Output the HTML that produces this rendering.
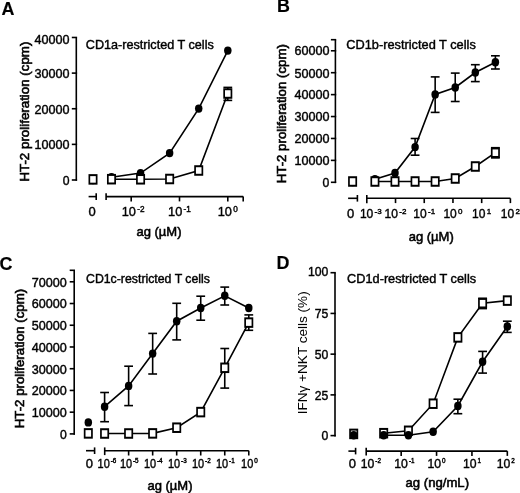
<!DOCTYPE html>
<html><head><meta charset="utf-8"><style>
html,body{margin:0;padding:0;background:#fff;}
svg{display:block;will-change:transform;}
text{font-family:"Liberation Sans", sans-serif;fill:#000;stroke:#000;stroke-width:0.4px;}
</style></head><body>
<svg width="520" height="493" viewBox="0 0 520 493" stroke="#000" stroke-linecap="butt">
<text x="1.50" y="14.60" font-size="17.9" text-anchor="start" font-weight="bold" style="stroke-width:0.15px">A</text>
<line x1="76.30" y1="37.50" x2="76.30" y2="180.80" stroke-width="1.6"/>
<line x1="71.80" y1="37.48" x2="77.10" y2="37.48" stroke-width="1.6"/>
<text x="69.60" y="43.88" font-size="12.2" text-anchor="end" font-weight="normal" textLength="35" lengthAdjust="spacingAndGlyphs" >40000</text>
<line x1="71.80" y1="73.11" x2="77.10" y2="73.11" stroke-width="1.6"/>
<text x="69.60" y="77.91" font-size="12.2" text-anchor="end" font-weight="normal" textLength="35" lengthAdjust="spacingAndGlyphs" >30000</text>
<line x1="71.80" y1="108.74" x2="77.10" y2="108.74" stroke-width="1.6"/>
<text x="69.60" y="113.54" font-size="12.2" text-anchor="end" font-weight="normal" textLength="35" lengthAdjust="spacingAndGlyphs" >20000</text>
<line x1="71.80" y1="144.37" x2="77.10" y2="144.37" stroke-width="1.6"/>
<text x="69.60" y="149.17" font-size="12.2" text-anchor="end" font-weight="normal" textLength="35" lengthAdjust="spacingAndGlyphs" >10000</text>
<line x1="71.80" y1="180.00" x2="77.10" y2="180.00" stroke-width="1.6"/>
<text x="69.60" y="184.80" font-size="12.2" text-anchor="end" font-weight="normal" >0</text>
<line x1="88.60" y1="196.60" x2="96.20" y2="196.60" stroke-width="1.6"/>
<line x1="96.20" y1="193.30" x2="96.20" y2="199.90" stroke-width="1.6"/>
<line x1="106.10" y1="196.60" x2="243.20" y2="196.60" stroke-width="1.6"/>
<line x1="106.10" y1="193.30" x2="106.10" y2="199.90" stroke-width="1.6"/>
<line x1="131.20" y1="196.60" x2="131.20" y2="201.40" stroke-width="1.6"/>
<line x1="179.50" y1="196.60" x2="179.50" y2="201.40" stroke-width="1.6"/>
<line x1="227.80" y1="196.60" x2="227.80" y2="201.40" stroke-width="1.6"/>
<line x1="243.20" y1="196.60" x2="243.20" y2="201.40" stroke-width="1.6"/>
<text x="92.10" y="216.20" font-size="13" text-anchor="middle" font-weight="normal" >0</text>
<text x="121.71" y="216.10" font-size="13" textLength="14.2" lengthAdjust="spacingAndGlyphs">10</text>
<text x="137.21" y="211.50" font-size="8.2">-2</text>
<text x="168.11" y="216.10" font-size="13" textLength="14.2" lengthAdjust="spacingAndGlyphs">10</text>
<text x="183.61" y="211.50" font-size="8.2">-1</text>
<text x="217.77" y="216.10" font-size="13" textLength="14.2" lengthAdjust="spacingAndGlyphs">10</text>
<text x="233.27" y="211.50" font-size="8.2">0</text>
<text x="159.00" y="236.30" font-size="13" text-anchor="middle" font-weight="normal" style="stroke-width:0.55px">ag (µM)</text>
<text transform="translate(29.00,181.60) rotate(-90)" font-size="13" text-anchor="start" textLength="140" lengthAdjust="spacingAndGlyphs" style="stroke-width:0.6px">HT-2 proliferation (cpm)</text>
<text x="85.80" y="48.80" font-size="11.9" text-anchor="start" font-weight="normal" textLength="128" lengthAdjust="spacingAndGlyphs" >CD1a-restricted T cells</text>
<polyline points="227.80,50.60 198.72,108.60 169.64,153.10 140.56,173.10 111.48,177.30" fill="none" stroke-width="1.6"/>
<polyline points="227.80,93.50 198.72,170.50 169.64,179.00 140.56,179.30 111.48,179.20" fill="none" stroke-width="1.6"/>
<ellipse cx="93.00" cy="180.00" rx="3.75" ry="4.2" fill="#000" stroke="none"/>
<ellipse cx="227.80" cy="50.60" rx="3.75" ry="4.2" fill="#000" stroke="none"/>
<ellipse cx="198.72" cy="108.60" rx="3.75" ry="4.2" fill="#000" stroke="none"/>
<ellipse cx="169.64" cy="153.10" rx="3.75" ry="4.2" fill="#000" stroke="none"/>
<ellipse cx="140.56" cy="173.10" rx="3.75" ry="4.2" fill="#000" stroke="none"/>
<ellipse cx="111.48" cy="177.30" rx="3.75" ry="4.2" fill="#000" stroke="none"/>
<line x1="227.80" y1="87.40" x2="227.80" y2="100.40" stroke-width="1.6"/>
<line x1="223.40" y1="87.40" x2="232.20" y2="87.40" stroke-width="1.6"/>
<line x1="223.40" y1="100.40" x2="232.20" y2="100.40" stroke-width="1.6"/>
<rect x="-3.65" y="-3.65" width="7.3" height="7.3" fill="#fff" stroke-width="1.7" transform="translate(93.00,179.40) scale(1,1.17)"/>
<rect x="-3.65" y="-3.65" width="7.3" height="7.3" fill="#fff" stroke-width="1.7" transform="translate(227.80,93.50) scale(1,1.17)"/>
<rect x="-3.65" y="-3.65" width="7.3" height="7.3" fill="#fff" stroke-width="1.7" transform="translate(198.72,170.50) scale(1,1.17)"/>
<rect x="-3.65" y="-3.65" width="7.3" height="7.3" fill="#fff" stroke-width="1.7" transform="translate(169.64,179.00) scale(1,1.17)"/>
<rect x="-3.65" y="-3.65" width="7.3" height="7.3" fill="#fff" stroke-width="1.7" transform="translate(140.56,179.30) scale(1,1.17)"/>
<rect x="-3.65" y="-3.65" width="7.3" height="7.3" fill="#fff" stroke-width="1.7" transform="translate(111.48,179.20) scale(1,1.17)"/>
<text x="277.00" y="12.30" font-size="17.9" text-anchor="start" font-weight="bold" style="stroke-width:0.15px">B</text>
<line x1="335.40" y1="39.70" x2="335.40" y2="183.10" stroke-width="1.6"/>
<line x1="330.90" y1="39.70" x2="336.20" y2="39.70" stroke-width="1.6"/>
<line x1="330.90" y1="50.78" x2="336.20" y2="50.78" stroke-width="1.6"/>
<text x="329.40" y="54.78" font-size="12.2" text-anchor="end" font-weight="normal" textLength="35" lengthAdjust="spacingAndGlyphs" >60000</text>
<line x1="330.90" y1="72.70" x2="336.20" y2="72.70" stroke-width="1.6"/>
<text x="329.40" y="77.50" font-size="12.2" text-anchor="end" font-weight="normal" textLength="35" lengthAdjust="spacingAndGlyphs" >50000</text>
<line x1="330.90" y1="94.62" x2="336.20" y2="94.62" stroke-width="1.6"/>
<text x="329.40" y="99.42" font-size="12.2" text-anchor="end" font-weight="normal" textLength="35" lengthAdjust="spacingAndGlyphs" >40000</text>
<line x1="330.90" y1="116.54" x2="336.20" y2="116.54" stroke-width="1.6"/>
<text x="329.40" y="121.34" font-size="12.2" text-anchor="end" font-weight="normal" textLength="35" lengthAdjust="spacingAndGlyphs" >30000</text>
<line x1="330.90" y1="138.46" x2="336.20" y2="138.46" stroke-width="1.6"/>
<text x="329.40" y="143.26" font-size="12.2" text-anchor="end" font-weight="normal" textLength="35" lengthAdjust="spacingAndGlyphs" >20000</text>
<line x1="330.90" y1="160.38" x2="336.20" y2="160.38" stroke-width="1.6"/>
<text x="329.40" y="165.18" font-size="12.2" text-anchor="end" font-weight="normal" textLength="35" lengthAdjust="spacingAndGlyphs" >10000</text>
<line x1="330.90" y1="182.30" x2="336.20" y2="182.30" stroke-width="1.6"/>
<text x="329.40" y="187.10" font-size="12.2" text-anchor="end" font-weight="normal" >0</text>
<line x1="348.10" y1="198.30" x2="357.40" y2="198.30" stroke-width="1.6"/>
<line x1="357.40" y1="195.00" x2="357.40" y2="201.60" stroke-width="1.6"/>
<line x1="366.80" y1="198.30" x2="510.40" y2="198.30" stroke-width="1.6"/>
<line x1="366.80" y1="195.00" x2="366.80" y2="203.30" stroke-width="1.6"/>
<line x1="395.52" y1="198.30" x2="395.52" y2="203.10" stroke-width="1.6"/>
<line x1="424.24" y1="198.30" x2="424.24" y2="203.10" stroke-width="1.6"/>
<line x1="452.96" y1="198.30" x2="452.96" y2="203.10" stroke-width="1.6"/>
<line x1="481.68" y1="198.30" x2="481.68" y2="203.10" stroke-width="1.6"/>
<line x1="510.40" y1="198.30" x2="510.40" y2="203.10" stroke-width="1.6"/>
<text x="350.70" y="218.20" font-size="13" text-anchor="middle" font-weight="normal" >0</text>
<text x="359.89" y="218.20" font-size="13" textLength="13.4" lengthAdjust="spacingAndGlyphs">10</text>
<text x="374.59" y="213.50" font-size="8">-3</text>
<text x="384.61" y="218.20" font-size="13" textLength="13.4" lengthAdjust="spacingAndGlyphs">10</text>
<text x="399.31" y="213.50" font-size="8">-2</text>
<text x="413.33" y="218.20" font-size="13" textLength="13.4" lengthAdjust="spacingAndGlyphs">10</text>
<text x="428.03" y="213.50" font-size="8">-1</text>
<text x="443.39" y="218.20" font-size="13" textLength="13.4" lengthAdjust="spacingAndGlyphs">10</text>
<text x="458.09" y="213.50" font-size="8">0</text>
<text x="472.11" y="218.20" font-size="13" textLength="13.4" lengthAdjust="spacingAndGlyphs">10</text>
<text x="486.81" y="213.50" font-size="8">1</text>
<text x="500.83" y="218.20" font-size="13" textLength="13.4" lengthAdjust="spacingAndGlyphs">10</text>
<text x="515.53" y="213.50" font-size="8">2</text>
<text x="431.20" y="240.70" font-size="13" text-anchor="middle" font-weight="normal" style="stroke-width:0.55px">ag (µM)</text>
<text transform="translate(286.40,183.30) rotate(-90)" font-size="13" text-anchor="start" textLength="139.2" lengthAdjust="spacingAndGlyphs" style="stroke-width:0.6px">HT-2 proliferation (cpm)</text>
<text x="346.30" y="49.20" font-size="11.9" text-anchor="start" font-weight="normal" textLength="129.5" lengthAdjust="spacingAndGlyphs" >CD1b-restricted T cells</text>
<polyline points="495.38,62.30 475.31,72.50 455.23,87.50 435.16,94.40 415.09,147.10 395.01,173.00 374.94,179.20" fill="none" stroke-width="1.6"/>
<polyline points="495.38,152.70 475.31,166.50 455.23,178.50 435.16,181.50 415.09,181.50 395.01,181.50 374.94,181.50" fill="none" stroke-width="1.6"/>
<ellipse cx="352.60" cy="182.00" rx="3.75" ry="4.2" fill="#000" stroke="none"/>
<line x1="495.38" y1="55.80" x2="495.38" y2="69.00" stroke-width="1.6"/>
<line x1="490.98" y1="55.80" x2="499.78" y2="55.80" stroke-width="1.6"/>
<line x1="490.98" y1="69.00" x2="499.78" y2="69.00" stroke-width="1.6"/>
<ellipse cx="495.38" cy="62.30" rx="3.75" ry="4.2" fill="#000" stroke="none"/>
<line x1="475.31" y1="64.70" x2="475.31" y2="81.60" stroke-width="1.6"/>
<line x1="470.91" y1="64.70" x2="479.71" y2="64.70" stroke-width="1.6"/>
<line x1="470.91" y1="81.60" x2="479.71" y2="81.60" stroke-width="1.6"/>
<ellipse cx="475.31" cy="72.50" rx="3.75" ry="4.2" fill="#000" stroke="none"/>
<line x1="455.23" y1="73.10" x2="455.23" y2="101.50" stroke-width="1.6"/>
<line x1="450.83" y1="73.10" x2="459.63" y2="73.10" stroke-width="1.6"/>
<line x1="450.83" y1="101.50" x2="459.63" y2="101.50" stroke-width="1.6"/>
<ellipse cx="455.23" cy="87.50" rx="3.75" ry="4.2" fill="#000" stroke="none"/>
<line x1="435.16" y1="76.90" x2="435.16" y2="112.40" stroke-width="1.6"/>
<line x1="430.76" y1="76.90" x2="439.56" y2="76.90" stroke-width="1.6"/>
<line x1="430.76" y1="112.40" x2="439.56" y2="112.40" stroke-width="1.6"/>
<ellipse cx="435.16" cy="94.40" rx="3.75" ry="4.2" fill="#000" stroke="none"/>
<line x1="415.09" y1="138.50" x2="415.09" y2="155.20" stroke-width="1.6"/>
<line x1="410.69" y1="138.50" x2="419.49" y2="138.50" stroke-width="1.6"/>
<line x1="410.69" y1="155.20" x2="419.49" y2="155.20" stroke-width="1.6"/>
<ellipse cx="415.09" cy="147.10" rx="3.75" ry="4.2" fill="#000" stroke="none"/>
<ellipse cx="395.01" cy="173.00" rx="3.75" ry="4.2" fill="#000" stroke="none"/>
<ellipse cx="374.94" cy="179.20" rx="3.75" ry="4.2" fill="#000" stroke="none"/>
<line x1="495.38" y1="147.70" x2="495.38" y2="157.90" stroke-width="1.6"/>
<line x1="490.98" y1="147.70" x2="499.78" y2="147.70" stroke-width="1.6"/>
<line x1="490.98" y1="157.90" x2="499.78" y2="157.90" stroke-width="1.6"/>
<rect x="-3.65" y="-3.65" width="7.3" height="7.3" fill="#fff" stroke-width="1.7" transform="translate(352.60,181.50) scale(1,1.17)"/>
<rect x="-3.65" y="-3.65" width="7.3" height="7.3" fill="#fff" stroke-width="1.7" transform="translate(495.38,152.70) scale(1,1.17)"/>
<rect x="-3.65" y="-3.65" width="7.3" height="7.3" fill="#fff" stroke-width="1.7" transform="translate(475.31,166.50) scale(1,1.17)"/>
<rect x="-3.65" y="-3.65" width="7.3" height="7.3" fill="#fff" stroke-width="1.7" transform="translate(455.23,178.50) scale(1,1.17)"/>
<rect x="-3.65" y="-3.65" width="7.3" height="7.3" fill="#fff" stroke-width="1.7" transform="translate(435.16,181.50) scale(1,1.17)"/>
<rect x="-3.65" y="-3.65" width="7.3" height="7.3" fill="#fff" stroke-width="1.7" transform="translate(415.09,181.50) scale(1,1.17)"/>
<rect x="-3.65" y="-3.65" width="7.3" height="7.3" fill="#fff" stroke-width="1.7" transform="translate(395.01,181.50) scale(1,1.17)"/>
<rect x="-3.65" y="-3.65" width="7.3" height="7.3" fill="#fff" stroke-width="1.7" transform="translate(374.94,181.50) scale(1,1.17)"/>
<text x="-0.60" y="270.20" font-size="17.9" text-anchor="start" font-weight="bold" style="stroke-width:0.15px">C</text>
<line x1="74.20" y1="270.30" x2="74.20" y2="434.70" stroke-width="1.6"/>
<line x1="69.70" y1="270.30" x2="75.00" y2="270.30" stroke-width="1.6"/>
<line x1="69.70" y1="281.79" x2="75.00" y2="281.79" stroke-width="1.6"/>
<text x="66.80" y="286.59" font-size="12.2" text-anchor="end" font-weight="normal" textLength="35" lengthAdjust="spacingAndGlyphs" >70000</text>
<line x1="69.70" y1="303.52" x2="75.00" y2="303.52" stroke-width="1.6"/>
<text x="66.80" y="308.32" font-size="12.2" text-anchor="end" font-weight="normal" textLength="35" lengthAdjust="spacingAndGlyphs" >60000</text>
<line x1="69.70" y1="325.25" x2="75.00" y2="325.25" stroke-width="1.6"/>
<text x="66.80" y="330.05" font-size="12.2" text-anchor="end" font-weight="normal" textLength="35" lengthAdjust="spacingAndGlyphs" >50000</text>
<line x1="69.70" y1="346.98" x2="75.00" y2="346.98" stroke-width="1.6"/>
<text x="66.80" y="351.78" font-size="12.2" text-anchor="end" font-weight="normal" textLength="35" lengthAdjust="spacingAndGlyphs" >40000</text>
<line x1="69.70" y1="368.71" x2="75.00" y2="368.71" stroke-width="1.6"/>
<text x="66.80" y="373.51" font-size="12.2" text-anchor="end" font-weight="normal" textLength="35" lengthAdjust="spacingAndGlyphs" >30000</text>
<line x1="69.70" y1="390.44" x2="75.00" y2="390.44" stroke-width="1.6"/>
<text x="66.80" y="395.24" font-size="12.2" text-anchor="end" font-weight="normal" textLength="35" lengthAdjust="spacingAndGlyphs" >20000</text>
<line x1="69.70" y1="412.17" x2="75.00" y2="412.17" stroke-width="1.6"/>
<text x="66.80" y="416.97" font-size="12.2" text-anchor="end" font-weight="normal" textLength="35" lengthAdjust="spacingAndGlyphs" >10000</text>
<line x1="69.70" y1="433.90" x2="75.00" y2="433.90" stroke-width="1.6"/>
<text x="66.80" y="438.70" font-size="12.2" text-anchor="end" font-weight="normal" >0</text>
<line x1="86.00" y1="450.70" x2="94.60" y2="450.70" stroke-width="1.6"/>
<line x1="94.60" y1="447.40" x2="94.60" y2="454.00" stroke-width="1.6"/>
<line x1="104.70" y1="450.70" x2="248.80" y2="450.70" stroke-width="1.6"/>
<line x1="104.70" y1="447.40" x2="104.70" y2="455.10" stroke-width="1.6"/>
<line x1="128.63" y1="450.70" x2="128.63" y2="455.50" stroke-width="1.6"/>
<line x1="152.66" y1="450.70" x2="152.66" y2="455.50" stroke-width="1.6"/>
<line x1="176.69" y1="450.70" x2="176.69" y2="455.50" stroke-width="1.6"/>
<line x1="200.72" y1="450.70" x2="200.72" y2="455.50" stroke-width="1.6"/>
<line x1="224.75" y1="450.70" x2="224.75" y2="455.50" stroke-width="1.6"/>
<line x1="248.78" y1="450.70" x2="248.78" y2="455.50" stroke-width="1.6"/>
<text x="89.30" y="468.00" font-size="13" text-anchor="middle" font-weight="normal" >0</text>
<text x="97.55" y="467.90" font-size="13" textLength="12.2" lengthAdjust="spacingAndGlyphs">10</text>
<text x="110.65" y="463.30" font-size="6.3">-6</text>
<text x="119.88" y="467.90" font-size="13" textLength="12.2" lengthAdjust="spacingAndGlyphs">10</text>
<text x="132.98" y="463.30" font-size="6.3">-5</text>
<text x="143.91" y="467.90" font-size="13" textLength="12.2" lengthAdjust="spacingAndGlyphs">10</text>
<text x="157.01" y="463.30" font-size="6.3">-4</text>
<text x="167.94" y="467.90" font-size="13" textLength="12.2" lengthAdjust="spacingAndGlyphs">10</text>
<text x="181.04" y="463.30" font-size="6.3">-3</text>
<text x="191.97" y="467.90" font-size="13" textLength="12.2" lengthAdjust="spacingAndGlyphs">10</text>
<text x="205.07" y="463.30" font-size="6.3">-2</text>
<text x="216.00" y="467.90" font-size="13" textLength="12.2" lengthAdjust="spacingAndGlyphs">10</text>
<text x="229.10" y="463.30" font-size="6.3">-1</text>
<text x="241.08" y="467.90" font-size="13" textLength="12.2" lengthAdjust="spacingAndGlyphs">10</text>
<text x="254.18" y="463.30" font-size="6.3">0</text>
<text x="170.00" y="489.50" font-size="13" text-anchor="middle" font-weight="normal" style="stroke-width:0.55px">ag (µM)</text>
<text transform="translate(23.90,428.30) rotate(-90)" font-size="13" text-anchor="start" textLength="139.5" lengthAdjust="spacingAndGlyphs" style="stroke-width:0.6px">HT-2 proliferation (cpm)</text>
<text x="86.00" y="283.20" font-size="11.9" text-anchor="start" font-weight="normal" textLength="124" lengthAdjust="spacingAndGlyphs" >CD1c-restricted T cells</text>
<polyline points="104.60,406.70 128.63,385.90 152.66,353.60 176.69,321.20 200.72,308.00 224.75,295.80 248.78,308.00" fill="none" stroke-width="1.6"/>
<polyline points="104.60,433.50 128.63,433.50 152.66,433.40 176.69,427.70 200.72,412.10 224.75,367.80 248.78,322.60" fill="none" stroke-width="1.6"/>
<ellipse cx="88.30" cy="422.40" rx="3.75" ry="4.2" fill="#000" stroke="none"/>
<line x1="104.60" y1="392.50" x2="104.60" y2="421.70" stroke-width="1.6"/>
<line x1="100.20" y1="392.50" x2="109.00" y2="392.50" stroke-width="1.6"/>
<line x1="100.20" y1="421.70" x2="109.00" y2="421.70" stroke-width="1.6"/>
<ellipse cx="104.60" cy="406.70" rx="3.75" ry="4.2" fill="#000" stroke="none"/>
<line x1="128.63" y1="366.20" x2="128.63" y2="405.60" stroke-width="1.6"/>
<line x1="124.23" y1="366.20" x2="133.03" y2="366.20" stroke-width="1.6"/>
<line x1="124.23" y1="405.60" x2="133.03" y2="405.60" stroke-width="1.6"/>
<ellipse cx="128.63" cy="385.90" rx="3.75" ry="4.2" fill="#000" stroke="none"/>
<line x1="152.66" y1="333.40" x2="152.66" y2="374.00" stroke-width="1.6"/>
<line x1="148.26" y1="333.40" x2="157.06" y2="333.40" stroke-width="1.6"/>
<line x1="148.26" y1="374.00" x2="157.06" y2="374.00" stroke-width="1.6"/>
<ellipse cx="152.66" cy="353.60" rx="3.75" ry="4.2" fill="#000" stroke="none"/>
<line x1="176.69" y1="303.30" x2="176.69" y2="339.90" stroke-width="1.6"/>
<line x1="172.29" y1="303.30" x2="181.09" y2="303.30" stroke-width="1.6"/>
<line x1="172.29" y1="339.90" x2="181.09" y2="339.90" stroke-width="1.6"/>
<ellipse cx="176.69" cy="321.20" rx="3.75" ry="4.2" fill="#000" stroke="none"/>
<line x1="200.72" y1="296.20" x2="200.72" y2="320.20" stroke-width="1.6"/>
<line x1="196.32" y1="296.20" x2="205.12" y2="296.20" stroke-width="1.6"/>
<line x1="196.32" y1="320.20" x2="205.12" y2="320.20" stroke-width="1.6"/>
<ellipse cx="200.72" cy="308.00" rx="3.75" ry="4.2" fill="#000" stroke="none"/>
<line x1="224.75" y1="287.10" x2="224.75" y2="305.00" stroke-width="1.6"/>
<line x1="220.35" y1="287.10" x2="229.15" y2="287.10" stroke-width="1.6"/>
<line x1="220.35" y1="305.00" x2="229.15" y2="305.00" stroke-width="1.6"/>
<ellipse cx="224.75" cy="295.80" rx="3.75" ry="4.2" fill="#000" stroke="none"/>
<ellipse cx="248.78" cy="308.00" rx="3.75" ry="4.2" fill="#000" stroke="none"/>
<line x1="224.75" y1="348.50" x2="224.75" y2="388.10" stroke-width="1.6"/>
<line x1="220.35" y1="348.50" x2="229.15" y2="348.50" stroke-width="1.6"/>
<line x1="220.35" y1="388.10" x2="229.15" y2="388.10" stroke-width="1.6"/>
<line x1="248.78" y1="314.90" x2="248.78" y2="330.30" stroke-width="1.6"/>
<line x1="244.38" y1="314.90" x2="253.18" y2="314.90" stroke-width="1.6"/>
<line x1="244.38" y1="330.30" x2="253.18" y2="330.30" stroke-width="1.6"/>
<rect x="-3.65" y="-3.65" width="7.3" height="7.3" fill="#fff" stroke-width="1.7" transform="translate(88.30,433.40) scale(1,1.17)"/>
<rect x="-3.65" y="-3.65" width="7.3" height="7.3" fill="#fff" stroke-width="1.7" transform="translate(104.60,433.50) scale(1,1.17)"/>
<rect x="-3.65" y="-3.65" width="7.3" height="7.3" fill="#fff" stroke-width="1.7" transform="translate(128.63,433.50) scale(1,1.17)"/>
<rect x="-3.65" y="-3.65" width="7.3" height="7.3" fill="#fff" stroke-width="1.7" transform="translate(152.66,433.40) scale(1,1.17)"/>
<rect x="-3.65" y="-3.65" width="7.3" height="7.3" fill="#fff" stroke-width="1.7" transform="translate(176.69,427.70) scale(1,1.17)"/>
<rect x="-3.65" y="-3.65" width="7.3" height="7.3" fill="#fff" stroke-width="1.7" transform="translate(200.72,412.10) scale(1,1.17)"/>
<rect x="-3.65" y="-3.65" width="7.3" height="7.3" fill="#fff" stroke-width="1.7" transform="translate(224.75,367.80) scale(1,1.17)"/>
<rect x="-3.65" y="-3.65" width="7.3" height="7.3" fill="#fff" stroke-width="1.7" transform="translate(248.78,322.60) scale(1,1.17)"/>
<text x="276.40" y="268.50" font-size="17.9" text-anchor="start" font-weight="bold" style="stroke-width:0.15px">D</text>
<line x1="335.00" y1="272.70" x2="335.00" y2="436.40" stroke-width="1.6"/>
<line x1="330.50" y1="272.70" x2="335.80" y2="272.70" stroke-width="1.6"/>
<text x="328.40" y="276.00" font-size="12.2" text-anchor="end" font-weight="normal" >100</text>
<line x1="330.50" y1="313.43" x2="335.80" y2="313.43" stroke-width="1.6"/>
<text x="328.40" y="318.23" font-size="12.2" text-anchor="end" font-weight="normal" >75</text>
<line x1="330.50" y1="354.15" x2="335.80" y2="354.15" stroke-width="1.6"/>
<text x="328.40" y="358.95" font-size="12.2" text-anchor="end" font-weight="normal" >50</text>
<line x1="330.50" y1="394.88" x2="335.80" y2="394.88" stroke-width="1.6"/>
<text x="328.40" y="399.68" font-size="12.2" text-anchor="end" font-weight="normal" >25</text>
<line x1="330.50" y1="435.60" x2="335.80" y2="435.60" stroke-width="1.6"/>
<text x="328.40" y="440.40" font-size="12.2" text-anchor="end" font-weight="normal" >0</text>
<line x1="348.40" y1="451.10" x2="355.60" y2="451.10" stroke-width="1.6"/>
<line x1="355.60" y1="447.80" x2="355.60" y2="454.40" stroke-width="1.6"/>
<line x1="366.20" y1="451.10" x2="507.30" y2="451.10" stroke-width="1.6"/>
<line x1="366.20" y1="447.80" x2="366.20" y2="455.50" stroke-width="1.6"/>
<line x1="401.18" y1="451.10" x2="401.18" y2="455.90" stroke-width="1.6"/>
<line x1="436.56" y1="451.10" x2="436.56" y2="455.90" stroke-width="1.6"/>
<line x1="471.94" y1="451.10" x2="471.94" y2="455.90" stroke-width="1.6"/>
<line x1="507.32" y1="451.10" x2="507.32" y2="455.90" stroke-width="1.6"/>
<text x="352.40" y="467.80" font-size="13" text-anchor="middle" font-weight="normal" >0</text>
<text x="360.70" y="467.90" font-size="13" textLength="13.6" lengthAdjust="spacingAndGlyphs">10</text>
<text x="375.30" y="463.30" font-size="6.3">-2</text>
<text x="394.28" y="467.90" font-size="13" textLength="13.6" lengthAdjust="spacingAndGlyphs">10</text>
<text x="408.88" y="463.30" font-size="6.3">-1</text>
<text x="427.51" y="467.90" font-size="13" textLength="13.6" lengthAdjust="spacingAndGlyphs">10</text>
<text x="442.11" y="463.30" font-size="6.3">0</text>
<text x="462.89" y="467.90" font-size="13" textLength="13.6" lengthAdjust="spacingAndGlyphs">10</text>
<text x="477.49" y="463.30" font-size="6.3">1</text>
<text x="496.67" y="467.90" font-size="13" textLength="13.6" lengthAdjust="spacingAndGlyphs">10</text>
<text x="511.27" y="463.30" font-size="6.3">2</text>
<text x="437.30" y="487.20" font-size="12.6" text-anchor="middle" font-weight="normal" textLength="63.5" lengthAdjust="spacingAndGlyphs" style="stroke-width:0.55px">ag (ng/mL)</text>
<text transform="translate(307.40,414.30) rotate(-90)" font-size="12.3" text-anchor="start" textLength="123" lengthAdjust="spacingAndGlyphs" style="stroke:none">IFN&#947; +NKT cells (%)</text>
<text x="347.10" y="283.20" font-size="11.9" text-anchor="start" font-weight="normal" textLength="129" lengthAdjust="spacingAndGlyphs" >CD1d-restricted T cells</text>
<polyline points="507.32,300.60 482.59,303.20 457.86,337.40 433.13,403.70 408.40,430.80 383.67,433.20" fill="none" stroke-width="1.6"/>
<line x1="482.59" y1="298.30" x2="482.59" y2="308.60" stroke-width="1.6"/>
<line x1="478.19" y1="298.30" x2="486.99" y2="298.30" stroke-width="1.6"/>
<line x1="478.19" y1="308.60" x2="486.99" y2="308.60" stroke-width="1.6"/>
<rect x="-3.65" y="-3.65" width="7.3" height="7.3" fill="#fff" stroke-width="1.7" transform="translate(353.70,433.90) scale(1,1.17)"/>
<rect x="-3.65" y="-3.65" width="7.3" height="7.3" fill="#fff" stroke-width="1.7" transform="translate(507.32,300.60) scale(1,1.17)"/>
<rect x="-3.65" y="-3.65" width="7.3" height="7.3" fill="#fff" stroke-width="1.7" transform="translate(482.59,303.20) scale(1,1.17)"/>
<rect x="-3.65" y="-3.65" width="7.3" height="7.3" fill="#fff" stroke-width="1.7" transform="translate(457.86,337.40) scale(1,1.17)"/>
<rect x="-3.65" y="-3.65" width="7.3" height="7.3" fill="#fff" stroke-width="1.7" transform="translate(433.13,403.70) scale(1,1.17)"/>
<rect x="-3.65" y="-3.65" width="7.3" height="7.3" fill="#fff" stroke-width="1.7" transform="translate(408.40,430.80) scale(1,1.17)"/>
<rect x="-3.65" y="-3.65" width="7.3" height="7.3" fill="#fff" stroke-width="1.7" transform="translate(383.67,433.20) scale(1,1.17)"/>
<polyline points="507.32,326.50 482.59,361.80 457.86,406.00 433.13,431.80 408.40,435.20 383.67,435.30" fill="none" stroke-width="1.6"/>
<line x1="507.32" y1="321.20" x2="507.32" y2="332.40" stroke-width="1.6"/>
<line x1="502.92" y1="321.20" x2="511.72" y2="321.20" stroke-width="1.6"/>
<line x1="502.92" y1="332.40" x2="511.72" y2="332.40" stroke-width="1.6"/>
<ellipse cx="507.32" cy="326.50" rx="3.75" ry="4.2" fill="#000" stroke="none"/>
<line x1="482.59" y1="351.40" x2="482.59" y2="373.10" stroke-width="1.6"/>
<line x1="478.19" y1="351.40" x2="486.99" y2="351.40" stroke-width="1.6"/>
<line x1="478.19" y1="373.10" x2="486.99" y2="373.10" stroke-width="1.6"/>
<ellipse cx="482.59" cy="361.80" rx="3.75" ry="4.2" fill="#000" stroke="none"/>
<line x1="457.86" y1="399.20" x2="457.86" y2="413.70" stroke-width="1.6"/>
<line x1="453.46" y1="399.20" x2="462.26" y2="399.20" stroke-width="1.6"/>
<line x1="453.46" y1="413.70" x2="462.26" y2="413.70" stroke-width="1.6"/>
<ellipse cx="457.86" cy="406.00" rx="3.75" ry="4.2" fill="#000" stroke="none"/>
<ellipse cx="433.13" cy="431.80" rx="3.75" ry="4.2" fill="#000" stroke="none"/>
<ellipse cx="408.40" cy="435.20" rx="3.75" ry="4.2" fill="#000" stroke="none"/>
<ellipse cx="383.67" cy="435.30" rx="3.75" ry="4.2" fill="#000" stroke="none"/>
<ellipse cx="353.70" cy="435.20" rx="3.75" ry="4.2" fill="#000" stroke="none"/>
</svg>
</body></html>
